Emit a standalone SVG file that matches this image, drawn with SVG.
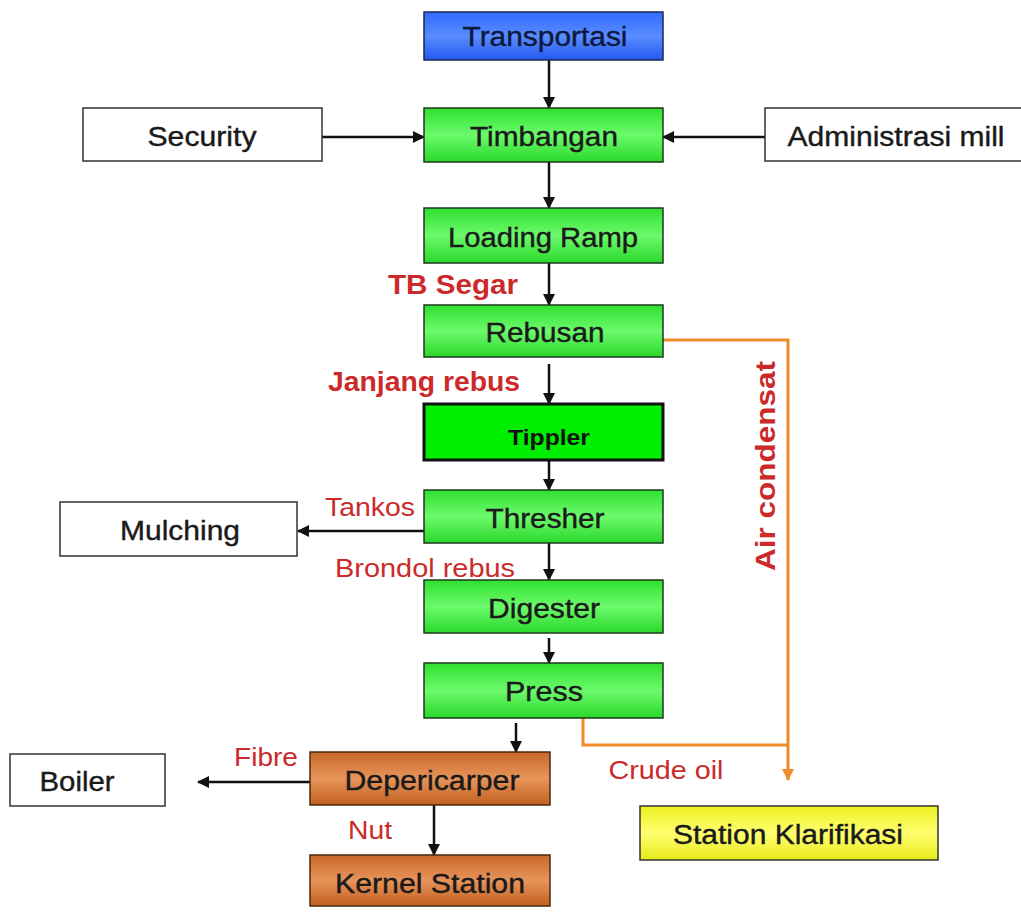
<svg xmlns="http://www.w3.org/2000/svg" width="1021" height="914" viewBox="0 0 1021 914">
<defs>
<linearGradient id="gGreen" x1="0" y1="0" x2="0" y2="1">
<stop offset="0" stop-color="#2fe02f"/><stop offset="0.5" stop-color="#6cfa6c"/><stop offset="1" stop-color="#2ad82a"/>
</linearGradient>
<linearGradient id="gBlue" x1="0" y1="0" x2="0" y2="1">
<stop offset="0" stop-color="#2f6bff"/><stop offset="0.5" stop-color="#5a8cff"/><stop offset="1" stop-color="#2458f0"/>
</linearGradient>
<linearGradient id="gBrown" x1="0" y1="0" x2="0" y2="1">
<stop offset="0" stop-color="#c8682a"/><stop offset="0.5" stop-color="#e8945a"/><stop offset="1" stop-color="#c0601f"/>
</linearGradient>
<linearGradient id="gYellow" x1="0" y1="0" x2="0" y2="1">
<stop offset="0" stop-color="#eef020"/><stop offset="0.5" stop-color="#ffff70"/><stop offset="1" stop-color="#e8ea1a"/>
</linearGradient>
<marker id="ah" viewBox="0 0 12 12" refX="11" refY="6" markerWidth="12" markerHeight="12" markerUnits="userSpaceOnUse" orient="auto">
<path d="M0,0 L12,6 L0,12 z" fill="#111"/>
</marker>
<marker id="aho" viewBox="0 0 12 12" refX="11" refY="6" markerWidth="12" markerHeight="12" markerUnits="userSpaceOnUse" orient="auto">
<path d="M0,0 L12,6 L0,12 z" fill="#f08a2a"/>
</marker>
</defs>
<style>
.green{fill:url(#gGreen);stroke:#1c3a1c;stroke-width:1.5}
.white{fill:#fff;stroke:#333;stroke-width:1.5}
.blue{fill:url(#gBlue);stroke:#1a2a50;stroke-width:1.5}
.brown{fill:url(#gBrown);stroke:#4a2a10;stroke-width:1.5}
.yellow{fill:url(#gYellow);stroke:#333;stroke-width:1.5}
.tip{fill:#00ee00;stroke:#111;stroke-width:3}
.t{font-family:"Liberation Sans",Arial,sans-serif;font-size:27px;fill:#1a1a1a;text-anchor:middle;stroke:#1a1a1a;stroke-width:0.4}
.tb{font-family:"Liberation Sans",Arial,sans-serif;font-size:22px;font-weight:bold;fill:#111;text-anchor:middle}
.r{font-family:"Liberation Sans",Arial,sans-serif;font-size:25px;fill:#cc2a2a;text-anchor:middle}
.rb{font-family:"Liberation Sans",Arial,sans-serif;font-size:27px;font-weight:bold;fill:#cc2a2a;text-anchor:middle}
.c{fill:none;stroke:#111;stroke-width:2.5}
.o{fill:none;stroke:#f08a2a;stroke-width:3}
</style>
<rect width="1021" height="914" fill="#fff"/>

<g id="connectors">
<line class="c" x1="549" y1="60" x2="549" y2="108" marker-end="url(#ah)"/>
<line class="c" x1="549" y1="162" x2="549" y2="208" marker-end="url(#ah)"/>
<line class="c" x1="549" y1="263" x2="549" y2="305" marker-end="url(#ah)"/>
<line class="c" x1="549" y1="364" x2="549" y2="404" marker-end="url(#ah)"/>
<line class="c" x1="549" y1="460" x2="549" y2="490" marker-end="url(#ah)"/>
<line class="c" x1="549" y1="543" x2="549" y2="580" marker-end="url(#ah)"/>
<line class="c" x1="549" y1="638" x2="549" y2="663" marker-end="url(#ah)"/>
<line class="c" x1="516" y1="723" x2="516" y2="752" marker-end="url(#ah)"/>
<line class="c" x1="434" y1="805" x2="434" y2="855" marker-end="url(#ah)"/>
<line class="c" x1="322" y1="137" x2="424" y2="137" marker-end="url(#ah)"/>
<line class="c" x1="765" y1="137" x2="663" y2="137" marker-end="url(#ah)"/>
<line class="c" x1="424" y1="531" x2="298" y2="531" marker-end="url(#ah)"/>
<line class="c" x1="310" y1="782" x2="198" y2="782" marker-end="url(#ah)"/>
<polyline class="o" points="663,340 788,340 788,780" marker-end="url(#aho)"/>
<polyline class="o" points="583,718 583,745 788,745"/>
</g>

<g id="labels">
<text class="rb" x="453" y="294" textLength="130" lengthAdjust="spacingAndGlyphs">TB Segar</text>
<text class="rb" x="424" y="391" textLength="192" lengthAdjust="spacingAndGlyphs">Janjang rebus</text>
<text class="r" x="370" y="516" textLength="90" lengthAdjust="spacingAndGlyphs">Tankos</text>
<text class="r" x="425" y="577" textLength="180" lengthAdjust="spacingAndGlyphs">Brondol rebus</text>
<text class="r" x="266" y="766" textLength="64" lengthAdjust="spacingAndGlyphs">Fibre</text>
<text class="r" x="370" y="839" textLength="44" lengthAdjust="spacingAndGlyphs">Nut</text>
<text class="r" x="666" y="779" textLength="115" lengthAdjust="spacingAndGlyphs">Crude oil</text>
<text class="rb" transform="translate(775,466) rotate(-90)" x="0" y="0" textLength="210" lengthAdjust="spacingAndGlyphs">Air condensat</text>
</g>

<g id="transportasi"><rect class="blue" x="424" y="12" width="239" height="48"/><text class="t" x="545" y="46" style="fill:#0d1a40;stroke:#0d1a40" textLength="165" lengthAdjust="spacingAndGlyphs">Transportasi</text></g>
<g id="timbangan"><rect class="green" x="424" y="108" width="239" height="54"/><text class="t" x="544" y="146" textLength="148" lengthAdjust="spacingAndGlyphs">Timbangan</text></g>
<g id="security"><rect class="white" x="83" y="108" width="239" height="53"/><text class="t" x="202" y="146" textLength="109" lengthAdjust="spacingAndGlyphs">Security</text></g>
<g id="administrasi"><rect class="white" x="765" y="108" width="262" height="53"/><text class="t" x="896" y="146" textLength="217" lengthAdjust="spacingAndGlyphs">Administrasi mill</text></g>
<g id="loading-ramp"><rect class="green" x="424" y="208" width="239" height="55"/><text class="t" x="543" y="247" textLength="190" lengthAdjust="spacingAndGlyphs">Loading Ramp</text></g>
<g id="rebusan"><rect class="green" x="424" y="305" width="239" height="52"/><text class="t" x="545" y="342" textLength="119" lengthAdjust="spacingAndGlyphs">Rebusan</text></g>
<g id="tippler"><rect class="tip" x="424" y="404" width="239" height="56"/><text class="tb" x="549" y="445" textLength="82" lengthAdjust="spacingAndGlyphs">Tippler</text></g>
<g id="thresher"><rect class="green" x="424" y="490" width="239" height="53"/><text class="t" x="545" y="528" textLength="119" lengthAdjust="spacingAndGlyphs">Thresher</text></g>
<g id="mulching"><rect class="white" x="60" y="502" width="237" height="54"/><text class="t" x="180" y="540" textLength="120" lengthAdjust="spacingAndGlyphs">Mulching</text></g>
<g id="digester"><rect class="green" x="424" y="580" width="239" height="53"/><text class="t" x="544" y="618" textLength="112" lengthAdjust="spacingAndGlyphs">Digester</text></g>
<g id="press"><rect class="green" x="424" y="663" width="239" height="55"/><text class="t" x="544" y="701" textLength="78" lengthAdjust="spacingAndGlyphs">Press</text></g>
<g id="depericarper"><rect class="brown" x="310" y="752" width="240" height="53"/><text class="t" x="432" y="790" textLength="175" lengthAdjust="spacingAndGlyphs">Depericarper</text></g>
<g id="boiler"><rect class="white" x="10" y="754" width="155" height="52"/><text class="t" x="77" y="791" textLength="75" lengthAdjust="spacingAndGlyphs">Boiler</text></g>
<g id="kernel-station"><rect class="brown" x="310" y="855" width="240" height="51"/><text class="t" x="430" y="893" textLength="190" lengthAdjust="spacingAndGlyphs">Kernel Station</text></g>
<g id="station-klarifikasi"><rect class="yellow" x="640" y="806" width="298" height="54"/><text class="t" x="788" y="844" textLength="230" lengthAdjust="spacingAndGlyphs">Station Klarifikasi</text></g>
</svg>
